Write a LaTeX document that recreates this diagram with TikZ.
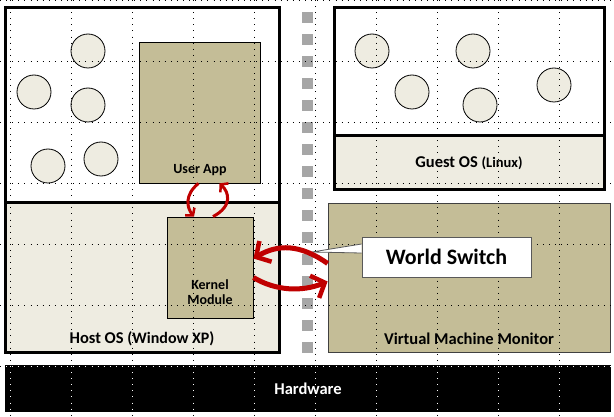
\documentclass[tikz,border=0pt]{standalone}
\usepackage{fontspec}
\setmainfont{Carlito}
\usetikzlibrary{arrows.meta}
\usetikzlibrary{positioning}

\definecolor{tan}{HTML}{C4BD97}
\definecolor{paper}{HTML}{EEECE1}
\definecolor{gapgray}{HTML}{A6A6A6}
\definecolor{switchred}{HTML}{C00000}

\begin{document}
\begin{tikzpicture}[
          x=1pt, y=-1pt,
          osbox/.style={
            draw,
            line width=3pt,
            fill=white,
            inner sep=0pt},
          osbase/.style={
            osbox,
            fill=paper},
          module/.style={
            draw,
            line width=0.8pt,
            fill=tan,
            inner sep=0pt},
          proc/.style={
            circle,
            draw,
            line width=0.8pt,
            fill=paper,
            minimum size=34pt,
            inner sep=0pt},
          caption/.style={
            font=\bfseries\fontsize{16.5}{18}\selectfont,
            inner sep=0pt},
          smallcap/.style={
            font=\bfseries\fontsize{14}{15}\selectfont,
            align=center,
            inner sep=0pt},
          gridline/.style={
            dash pattern=on 0.8pt off 5.3pt,
            line width=0.8pt},
          switcharrow/.style={
            draw=switchred,
            line width=5pt,
            -{Straight Barb[length=11pt,width=24pt,line width=4.5pt]}},
          modearrow/.style={
            draw=switchred,
            line width=3pt,
            -{Straight Barb[length=5pt,width=12pt,line width=2.5pt]}},
        ]
          \useasboundingbox[fill=white] (0,0) rectangle (614,417);

          % host side
          \node[osbox, minimum width=274pt, minimum height=344pt] (host) at (142,180) {};
          \node[osbase, minimum width=274pt, minimum height=149pt] (hostbase) at (142,277.5) {};
          \node[caption] (hostlabel) at (142,339) {Host OS {\fontsize{16}{18}\selectfont(Window XP)}};
          \node[module, minimum width=121pt, minimum height=141pt] (userapp) at (199.5,112.5) {};
          \node[smallcap] (applabel) at (200,170) {User App};
          \node[module, minimum width=86pt, minimum height=101pt] (kernel) at (210,267.5) {};
          \node[smallcap] (kernellabel) at (210,292) {Kernel\\Module};
          \foreach \name/\x/\y in {p1/88/51, p2/34/92, p3/88/105, p4/48/166, p5/101/159}
            \node[proc] (\name) at (\x,\y) {};

          % guest side
          \node[osbox, minimum width=270pt, minimum height=182pt] (guest) at (469,99) {};
          \node[osbase, minimum width=270pt, minimum height=54pt] (guestbase) at (469,163) {};
          \node[caption] (guestlabel) at (469,163) {Guest OS {\fontsize{14.5}{16}\selectfont(Linux)}};
          \foreach \name/\x/\y in {q1/372/51, q2/412/92, q3/473/51, q4/480/105, q5/554/85}
            \node[proc] (\name) at (\x,\y) {};
          \node[module, draw=black!75, minimum width=282pt, minimum height=149pt] (vmm) at (469,277.5) {};
          \node[caption] (vmmlabel) at (469,339) {Virtual Machine Monitor};

          % hardware
          \node[fill=black, minimum width=606pt, minimum height=47pt, inner sep=0pt] (hardware) at (308,388.5) {};
          \node[caption, text=white] (hwlabel) at (hardware) {Hardware};

          % gap between host and guest
          \foreach \k in {0,...,15}
            \fill[gapgray] (302,12+22*\k) rectangle ++(11,11);

          % grid
          \foreach \x in {10,71,...,559}
            \draw[gridline] (\x,0) -- (\x,417);
          \foreach \y in {0,61,...,366}
            \draw[gridline] (0,\y) -- (614,\y);
          \begin{scope}
            \clip (hardware.north west) rectangle (hardware.south east);
            \foreach \x in {10,71,...,559}
              \draw[gridline, white] (\x,0) -- (\x,417);
            \draw[gridline, white] (0,366) -- (614,366);
          \end{scope}

          % callout
          \node[draw=black!65, line width=0.8pt, fill=white, minimum width=169pt, minimum height=40pt,
                font=\bfseries\fontsize{22}{24}\selectfont] (switch) at (446.5,257) {World Switch};
          \coordinate (tip) at (312,252);
          \fill[white] ([yshift=13pt]switch.west) -- (tip) -- ([yshift=4pt]switch.west) -- cycle;
          \draw[black!65, line width=0.8pt] ([yshift=13pt]switch.west) -- (tip) -- ([yshift=4pt]switch.west);

          % world switch arrows
          \draw[switcharrow] ([yshift=14pt]vmm.west) .. controls (300,244) and (278,244) .. ([yshift=9pt]kernel.east);
          \draw[switcharrow] ([yshift=-10pt]kernel.east) .. controls (276,291) and (302,292) .. ([yshift=-4pt]vmm.west);
          \draw[modearrow] ([xshift=3pt]kernel.north) .. controls (233,206) and (229,192) .. ([xshift=20pt]userapp.south);
          \draw[modearrow] ([xshift=-1pt]userapp.south) .. controls (184,195) and (187,208) .. ([xshift=-16pt]kernel.north);
        \end{tikzpicture}
\end{document}
